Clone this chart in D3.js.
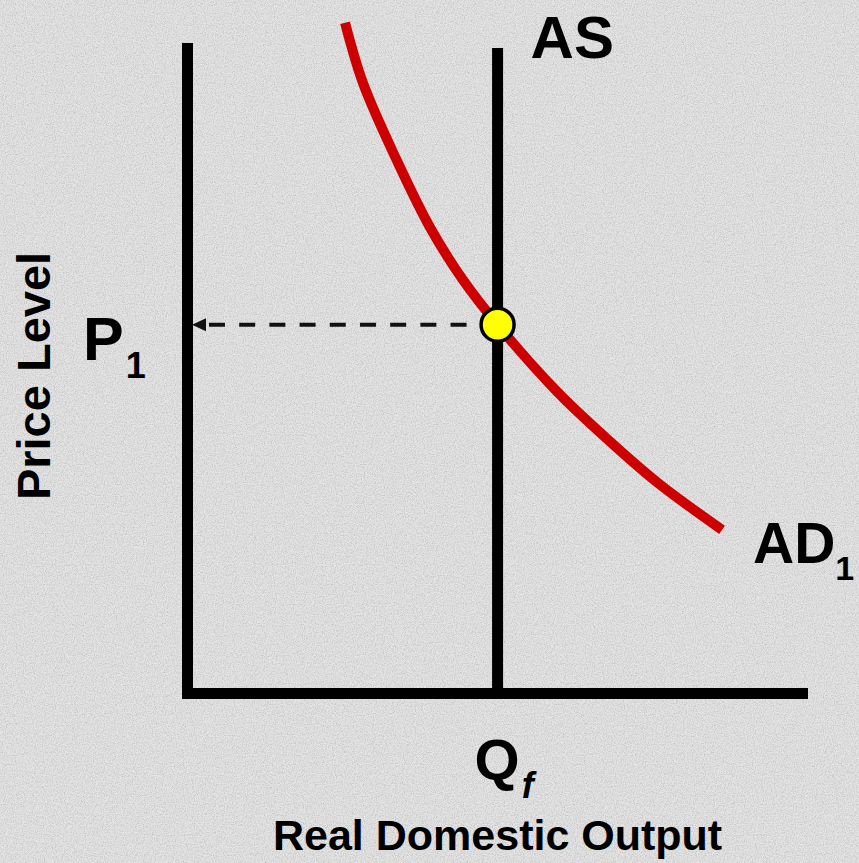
<!DOCTYPE html>
<html>
<head>
<meta charset="utf-8">
<script src="https://cdn.jsdelivr.net/npm/d3@7"></script>
<style>
  html, body { margin: 0; padding: 0; background: #dcdcdc; }
  svg { display: block; }
  text { font-family: "Liberation Sans", Arial, sans-serif; font-weight: bold; fill: #000; }
</style>
</head>
<body>
<div id="chart"></div>
<script>
// AD curve (output, price level)
const adOutput = [2.57, 2.86, 3.41, 3.95, 4.49, 5.05, 6.02, 6.83, 7.64, 8.70];
const adPrice  = [10.39, 9.46, 8.26, 7.22, 6.40, 5.71, 4.67, 3.94, 3.27, 2.53];

// vertical AS line at full-employment output
const asOutput = 5.05;
const asPrice = [0, 10];

// equilibrium price
const p1 = 5.71;

// labels
const labels = { as: "AS", ad: "AD", p: "P", q: "Q", sub1: "1", subf: "f",
                 xTitle: "Real Domestic Output", yTitle: "Price Level" };

const w = 859, h = 863;

const svg = d3.select("#chart").append("svg")
    .attr("width", w)
    .attr("height", h);

// grey speckled background
const defs = svg.append("defs");
const f = defs.append("filter").attr("id", "grain")
    .attr("x", 0).attr("y", 0).attr("width", "100%").attr("height", "100%");
f.append("feTurbulence")
    .attr("type", "fractalNoise")
    .attr("baseFrequency", 0.9)
    .attr("numOctaves", 2)
    .attr("seed", 4)
    .attr("result", "noise");
f.append("feColorMatrix")
    .attr("type", "matrix")
    .attr("values", "0 0 0 0 0  0 0 0 0 0  0 0 0 0 0  0 0 0 -0.9 0.55");

svg.append("rect").attr("width", w).attr("height", h).attr("fill", "#e4e4e4");
svg.append("rect").attr("width", w).attr("height", h).attr("filter", "url(#grain)").attr("opacity", 0.35);

const x = d3.scaleLinear().domain([0, 10]).range([187, 802]);
const y = d3.scaleLinear().domain([0, 10]).range([693, 48]);

// axes, no ticks
const xAxis = svg.append("g")
    .attr("transform", `translate(0,${y(0)})`)
    .call(d3.axisBottom(x).ticks(0).tickSizeOuter(0));
const yAxis = svg.append("g")
    .attr("transform", `translate(${x(0)},0)`)
    .call(d3.axisLeft(y).ticks(0).tickSizeOuter(0));
[xAxis, yAxis].forEach(g => {
    g.select(".domain")
        .attr("stroke", "#000")
        .attr("stroke-width", 11)
        .attr("stroke-linecap", "square");
});

// AS line
svg.append("line")
    .attr("x1", x(asOutput)).attr("x2", x(asOutput))
    .attr("y1", y(asPrice[0])).attr("y2", y(asPrice[1]))
    .attr("stroke", "#000")
    .attr("stroke-width", 11);

// AD curve
const adData = adOutput.map((d, i) => ({ q: d, p: adPrice[i] }));
svg.append("path")
    .datum(adData)
    .attr("fill", "none")
    .attr("stroke", "#cc0000")
    .attr("stroke-width", 10)
    .attr("d", d3.line()
        .x(d => x(d.q))
        .y(d => y(d.p))
        .curve(d3.curveCatmullRom.alpha(0.5)));

// dashed guide from equilibrium to price axis
const ey = y(p1);
svg.append("line")
    .attr("x1", x(asOutput) - 31).attr("x2", x(0) + 21)
    .attr("y1", ey).attr("y2", ey)
    .attr("stroke", "#111")
    .attr("stroke-width", 4)
    .attr("stroke-dasharray", "16,14.2");
svg.append("path")
    .attr("d", `M${x(0) + 5},${ey}L${x(0) + 19},${ey - 6.5}L${x(0) + 19},${ey + 6.5}Z`)
    .attr("fill", "#111");

// equilibrium point
svg.append("circle")
    .attr("cx", x(asOutput))
    .attr("cy", ey)
    .attr("r", 16.5)
    .attr("fill", "#ffff00")
    .attr("stroke", "#000")
    .attr("stroke-width", 3.5);

// labels
svg.append("text")
    .attr("x", x(asOutput) + 33).attr("y", 58)
    .style("font-size", "60px")
    .text(labels.as);

const ad = svg.append("text")
    .attr("x", 753).attr("y", 563)
    .style("font-size", "57px");
ad.append("tspan").text(labels.ad);
ad.append("tspan").attr("dy", 17).style("font-size", "34px").text(labels.sub1);

const p = svg.append("text")
    .attr("x", 83).attr("y", ey + 35)
    .style("font-size", "61px");
p.append("tspan").text(labels.p);
p.append("tspan").attr("dx", 2).attr("dy", 18).style("font-size", "36px").text(labels.sub1);

const q = svg.append("text")
    .attr("x", x(asOutput) - 23).attr("y", 780)
    .style("font-size", "58px");
q.append("tspan").text(labels.q);
q.append("tspan").attr("dx", 2).attr("dy", 18).style("font-size", "36px").style("font-style", "italic").text(labels.subf);

svg.append("text")
    .attr("x", x(asOutput)).attr("y", 850)
    .attr("text-anchor", "middle")
    .style("font-size", "43px")
    .text(labels.xTitle);

svg.append("text")
    .attr("transform", `translate(50,376) rotate(-90)`)
    .attr("text-anchor", "middle")
    .style("font-size", "47px")
    .text(labels.yTitle);
</script>
</body>
</html>
